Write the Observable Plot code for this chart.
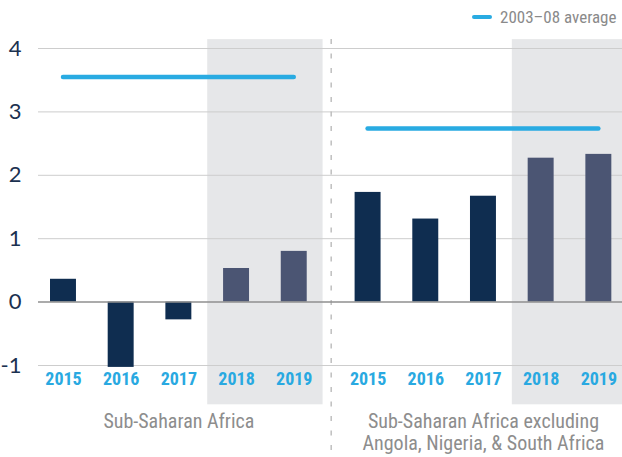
<!DOCTYPE html>
<html>
<head>
<meta charset="utf-8">
<script src="https://cdn.jsdelivr.net/npm/d3@7"></script>
<script src="https://cdn.jsdelivr.net/npm/@observablehq/plot@0.6"></script>
<style>
  html, body { margin: 0; padding: 0; background: #fff; }
  #wrap { position: relative; width: 622px; height: 457px; overflow: hidden; }
  #legend { position: absolute; left: 472px; top: 7px; display: flex; align-items: center; gap: 8px;
    font-family: "Liberation Sans Narrow", "Roboto Condensed", "DejaVu Sans Condensed", sans-serif;
    font-size: 17px; color: #8a8a8a; white-space: nowrap; }
  #legend .swatch { width: 20px; height: 4.5px; border-radius: 3px; background: #29abe2; }
</style>
</head>
<body>
<div id="wrap">
  <div id="chart"></div>
  <div id="legend"><span class="swatch"></span><span>2003–08 average</span></div>
</div>
<script>
// ---- data ----
const years = ["2015", "2016", "2017", "2018", "2019"];
const forecastYears = ["2018", "2019"];
const panels = ["Sub-Saharan Africa", "Sub-Saharan Africa excluding\nAngola, Nigeria, & South Africa"];
const ssaValues = [0.36, -1.03, -0.28, 0.53, 0.80];
const exclValues = [1.73, 1.31, 1.67, 2.27, 2.33];
const averages = [3.55, 2.74];
const yTicks = [-1, 0, 1, 2, 3, 4];

// ---- layout helpers ----
const panelOffset = 5.28;   // in bar steps
const barWidth = 0.45;
const shadeTop = 4.14, shadeBottom = -1.62, dividerBottom = -2.6;
const seriesValues = [ssaValues, exclValues];

const data = panels.flatMap((p, pi) => years.map((yr, i) => ({
  panel: p, year: yr, pos: i + pi * panelOffset, value: seriesValues[pi][i],
  forecast: forecastYears.includes(yr)
})));
const shades = panels.map((p, pi) => {
  const f = data.filter(d => d.panel === p && d.forecast);
  return {x1: d3.min(f, d => d.pos) - 0.5, x2: d3.max(f, d => d.pos) + 0.5};
});
const avgData = panels.map((p, pi) => ({
  value: averages[pi], x1: pi * panelOffset, x2: (years.length - 1) + pi * panelOffset
}));
const panelLabels = panels.map((p, pi) => ({label: p, pos: (years.length - 1) / 2 + pi * panelOffset}));
const dividerPos = (years.length - 1 + panelOffset) / 2;

const narrow = '"Liberation Sans Narrow", "Roboto Condensed", "DejaVu Sans Condensed", sans-serif';

const chart = Plot.plot({
  width: 622,
  height: 457,
  marginLeft: 38,
  marginRight: 0,
  marginTop: 48,
  marginBottom: 92,
  style: {background: "#fff", overflow: "hidden"},
  x: {type: "linear", domain: [-0.433, 9.69], axis: null},
  y: {domain: [-1, 4], axis: null},
  marks: [
    Plot.rect(shades, {x1: "x1", x2: "x2", y1: () => shadeTop, y2: () => shadeBottom, fill: "#e6e7e9"}),
    Plot.ruleY(yTicks.filter(d => d !== 0), {stroke: "#cdcdcd", strokeWidth: 1}),
    Plot.ruleX([dividerPos], {y1: () => shadeTop, y2: () => dividerBottom, stroke: "#b5b5b5", strokeWidth: 1.3, strokeDasharray: "5,9.5"}),
    Plot.rectY(data, {filter: d => !d.forecast, x1: d => d.pos - barWidth / 2, x2: d => d.pos + barWidth / 2, y: "value", fill: "#0f2d50"}),
    Plot.rectY(data, {filter: d => d.forecast, x1: d => d.pos - barWidth / 2, x2: d => d.pos + barWidth / 2, y: "value", fill: "#4b5573"}),
    Plot.ruleY([0], {stroke: "#8f8f8f", strokeWidth: 1.5}),
    Plot.ruleY(avgData, {y: "value", x1: "x1", x2: "x2", stroke: "#29abe2", strokeWidth: 4.5, strokeLinecap: "round"}),
    Plot.axisY({ticks: yTicks, label: null, tickSize: 0, tickPadding: 17, fontSize: 22, color: "#1b3150",
      fontFamily: "Lato, 'Open Sans', sans-serif",
      tickFormat: d => d < 0 ? "-" + Math.abs(d) : String(d)}),
    Plot.text(data, {x: "pos", text: "year", frameAnchor: "bottom", dy: 19, fontSize: 18, fontWeight: "bold",
      fill: "#29a9e1", fontFamily: narrow}),
    Plot.text(panelLabels, {x: "pos", text: "label", frameAnchor: "bottom", lineAnchor: "top", dy: 47,
      fontSize: 20, lineHeight: 1.1, fill: "#8d8d8d", fontFamily: narrow})
  ]
});
document.getElementById("chart").appendChild(chart);
</script>
</body>
</html>
